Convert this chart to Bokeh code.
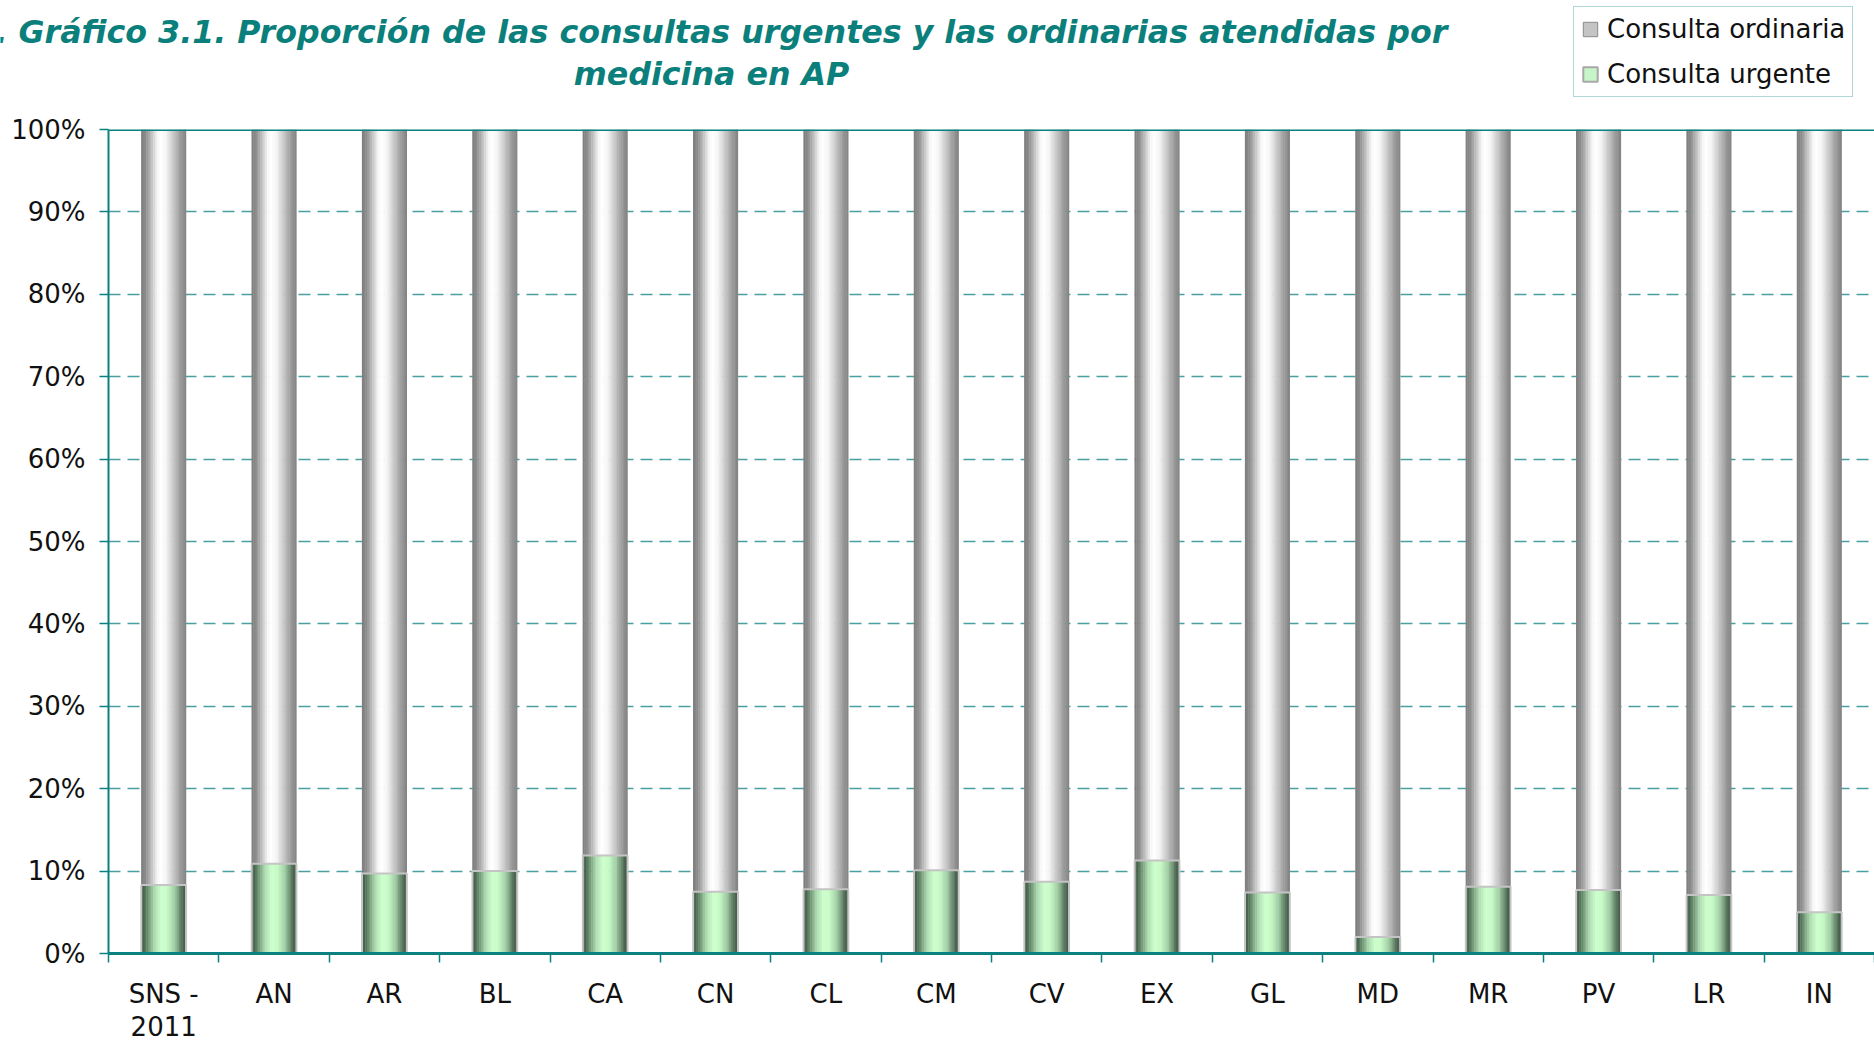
from bokeh.plotting import figure
from bokeh.layouts import column
from bokeh.models import (Range1d, FixedTicker, LinearAxis, PrintfTickFormatter, CustomJSTickFormatter,
                          Span, Legend, LegendItem, Label, ColumnDataSource, Grid)
from bokeh.transform import dodge
from bokeh.embed import file_html
from bokeh.resources import INLINE

# ---------------- data ----------------
categories = ["SNS -\n2011", "AN", "AR", "BL", "CA", "CN", "CL", "CM", "CV", "EX",
              "GL", "MD", "MR", "PV", "LR", "IN"]
urgente = [8.3, 10.9, 9.7, 10.0, 11.9, 7.5, 7.8, 10.1, 8.7, 11.3, 7.4, 2.0, 8.1, 7.7, 7.1, 5.0]
ordinaria = [91.7, 89.1, 90.3, 90.0, 88.1, 92.5, 92.2, 89.9, 91.3, 88.7, 92.6, 98.0, 91.9, 92.3, 92.9, 95.0]
series_names = ["Consulta ordinaria", "Consulta urgente"]
y_ticks = [0, 10, 20, 30, 40, 50, 60, 70, 80, 90, 100]
title_lines = [". Gráfico 3.1. Proporción de las consultas urgentes y las ordinarias atendidas por",
               "medicina en AP"]

# ---------------- styles ----------------
TEAL = "#0a8080"
TITLE_COLOR = "#0b7f7b"
GRID_COLOR = "#4aa0a0"
FONT = "DejaVu Sans"
BAR_W = 0.405
N_STRIPS = 26

gray_stops = [(0.0, (125, 125, 125)), (0.1, (140, 140, 140)), (0.25, (200, 200, 200)),
              (0.36, (246, 246, 246)), (0.44, (255, 255, 255)), (0.56, (244, 244, 244)),
              (0.72, (200, 200, 200)), (0.88, (155, 155, 155)), (1.0, (130, 130, 130))]
green_stops = [(0.0, (55, 75, 60)), (0.12, (95, 130, 100)), (0.3, (175, 220, 178)),
               (0.45, (204, 255, 204)), (0.58, (200, 250, 200)), (0.75, (160, 205, 163)),
               (0.9, (90, 120, 95)), (1.0, (58, 78, 62))]


def interp(stops, t):
    for (t0, c0), (t1, c1) in zip(stops[:-1], stops[1:]):
        if t0 <= t <= t1:
            f = (t - t0) / (t1 - t0) if t1 > t0 else 0
            c = tuple(int(round(a + (b - a) * f)) for a, b in zip(c0, c1))
            return "#%02x%02x%02x" % c
    return "#%02x%02x%02x" % stops[-1][1]


n = len(categories)
source = ColumnDataSource(dict(
    x=[i + 0.5 for i in range(n)],
    urg=urgente,
    top=[u + o for u, o in zip(urgente, ordinaria)],
))

W, H = 1874, 1044
TOP_H = 113                     # header strip (title + legend)
MAIN_H = H - TOP_H
BORDER_L, BORDER_T, BORDER_B = 108, 16, 91

# ---------------- header figure: title + legend ----------------
top = figure(width=W, height=TOP_H, x_range=Range1d(0, 1), y_range=Range1d(0, 1),
             output_backend="svg", toolbar_location=None, x_axis_type=None, y_axis_type=None,
             min_border_left=0, min_border_right=0, min_border_top=0, min_border_bottom=0)
top.frame_align = False
top.outline_line_color = None
top.xgrid.visible = False
top.ygrid.visible = False
top.background_fill_color = "white"
top.border_fill_color = "white"

title_style = dict(text_font=FONT, text_font_size="31.7px", text_font_style="bold italic",
                   text_color=TITLE_COLOR, text_baseline="alphabetic",
                   x_units="screen", y_units="screen")
top.add_layout(Label(x=-5, y=TOP_H - 31, text=title_lines[0], text_align="left", **title_style))
top.add_layout(Label(x=711, y=TOP_H - 73, text=title_lines[1], text_align="center", **title_style))

# legend swatches (renderers with no visible point; they only feed the legend)
nan_src = ColumnDataSource(dict(x=[float("nan")], y=[float("nan")]))
leg_ord = top.rect(x="x", y="y", width=1, height=1, source=nan_src,
                   fill_color="#c4c4c4", line_color="#8a8a8a", line_width=1)
leg_urg = top.rect(x="x", y="y", width=1, height=1, source=nan_src,
                   fill_color="#c8f5c8", line_color="#a8a8a8", line_width=2)
legend = Legend(items=[LegendItem(label=series_names[0], renderers=[leg_ord], index=0),
                       LegendItem(label=series_names[1], renderers=[leg_urg], index=0)],
                location=(1573, TOP_H - 97), orientation="vertical",
                border_line_color="#5fb0b0", border_line_width=1.5,
                background_fill_color="white", background_fill_alpha=1.0,
                label_text_font=FONT, label_text_font_size="26px", label_text_color="#111111",
                glyph_width=18, glyph_height=18, label_height=28, spacing=15,
                padding=7, margin=0, label_standoff=8)
top.add_layout(legend)

# ---------------- main chart ----------------
p = figure(width=W, height=MAIN_H, x_range=Range1d(0, n), y_range=Range1d(0, 100),
           output_backend="svg", toolbar_location=None,
           x_axis_type=None, y_axis_type=None,
           min_border_left=BORDER_L, min_border_right=0, min_border_bottom=BORDER_B,
           min_border_top=BORDER_T)
p.frame_align = False
p.outline_line_color = None
p.background_fill_color = "white"
p.border_fill_color = "white"

grid = Grid(dimension=1, ticker=FixedTicker(ticks=y_ticks[1:-1]),
            grid_line_color=GRID_COLOR, grid_line_width=1.5, grid_line_dash="12 7")
p.add_layout(grid)

strip_w = BAR_W / N_STRIPS
for i in range(N_STRIPS):
    t = (i + 0.5) / N_STRIPS
    off = -BAR_W / 2 + (i + 0.5) * strip_w
    p.vbar(x=dodge("x", off), bottom="urg", top="top", width=strip_w * 1.25,
           fill_color=interp(gray_stops, t), line_color=None, source=source)
    p.vbar(x=dodge("x", off), bottom=0, top="urg", width=strip_w * 1.25,
           fill_color=interp(green_stops, t), line_color=None, source=source)

p.vbar(x="x", bottom=0, top="urg", width=BAR_W, fill_color=None,
       line_color="#c4c4c4", line_width=2, source=source)

p.add_layout(Span(location=100, dimension="width", line_color=TEAL, line_width=3))

yaxis = LinearAxis(ticker=FixedTicker(ticks=y_ticks), formatter=PrintfTickFormatter(format="%d%%"))
yaxis.axis_line_color = TEAL
yaxis.axis_line_width = 2
yaxis.major_tick_line_color = TEAL
yaxis.major_tick_line_width = 1.5
yaxis.major_tick_out = 9
yaxis.major_tick_in = 0
yaxis.minor_tick_line_color = None
yaxis.major_label_standoff = 14
yaxis.major_label_text_font = FONT
yaxis.major_label_text_font_size = "26px"
yaxis.major_label_text_color = "#111111"
p.add_layout(yaxis, "left")

xaxis = LinearAxis(ticker=FixedTicker(ticks=[i + 0.5 for i in range(n)],
                                      minor_ticks=[float(i) for i in range(n + 1)]),
                   formatter=CustomJSTickFormatter(args=dict(labels=categories),
                                                   code="return labels[Math.floor(tick)];"))
xaxis.axis_line_color = TEAL
xaxis.axis_line_width = 3
xaxis.major_tick_line_color = None
xaxis.major_tick_out = 9
xaxis.major_tick_in = 0
xaxis.minor_tick_line_color = TEAL
xaxis.minor_tick_line_width = 1.5
xaxis.minor_tick_out = 9
xaxis.minor_tick_in = 0
xaxis.major_label_standoff = 16
xaxis.major_label_text_font = FONT
xaxis.major_label_text_font_size = "26px"
xaxis.major_label_text_color = "#111111"
xaxis.major_label_text_line_height = 1.1
p.add_layout(xaxis, "below")

layout = column(top, p, spacing=0)
open("out.html", "w").write(file_html(layout, INLINE))
